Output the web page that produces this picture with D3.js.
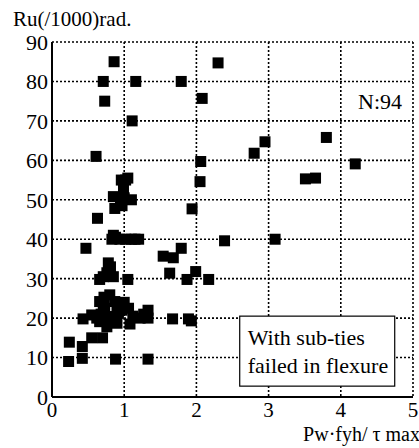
<!DOCTYPE html>
<html>
<head>
<meta charset="utf-8">
<script src="https://cdn.jsdelivr.net/npm/d3@7"></script>
<style>
  body { margin:0; background:#fff; }
  text { font-family: "Liberation Serif", "DejaVu Serif", serif; fill:#000; }
</style>
</head>
<body>
<div id="chart"></div>
<script>
// data: Pw*fyh/tau max (x) vs Ru (/1000 rad) (y)
var xVals = [0.86,0.71,1.16,1.79,0.73,2.08,1.11,2.30,2.95,2.80,3.80,4.20,3.51,3.65,3.09,
  0.61,2.06,2.05,1.94,0.63,0.47,0.96,1.02,0.99,0.85,0.95,1.10,1.00,0.87,0.97,
  0.85,0.83,0.94,1.02,1.10,1.20,2.39,1.54,1.68,1.79,1.63,1.87,1.99,2.17,1.33,
  1.67,1.89,1.93,0.81,0.71,0.85,1.05,0.72,0.80,0.24,0.23,0.42,0.42,0.55,0.70,
  0.88,1.33,0.43,0.55,0.66,0.71,0.80,0.76,0.90,0.92,1.06,1.08,1.22,1.33,0.97,
  0.78,0.66,0.87,0.66,0.76,1.15,1.00,0.72,0.68,0.90,1.27,0.62,1.12,0.88,0.73,
  0.95,1.05,0.78,1.28];
var yVals = [85,80,80,80,75,75.7,70,84.7,64.7,61.8,65.8,59.1,55.3,55.5,40,
  61,59.7,54.6,47.7,45.3,37.7,55,55,52.5,50.8,49.8,50,50.5,47.8,48.5,
  41,40,40,40,40,40,39.6,35.7,35.3,37.7,31.4,29.8,31.8,29.8,20,
  19.8,19.8,19.3,33,30.5,30.5,29.8,25.3,25.9,13.9,9,12.8,9.8,15,15,
  9.6,9.6,19.8,20.8,19.1,22,20.4,17.8,18.7,21.2,22.5,18.5,20,22,22,
  20,24.2,24.2,29.8,31.5,40,24,24,21,21.5,21,20,20.5,40.5,22.5,
  50.5,55.5,34,20.5];
var xTicks = [0,1,2,3,4,5];
var yTicks = [0,10,20,30,40,50,60,70,80,90];

var svgWidth = 419,
  svgHeight = 448;
var margin = {t:42, r:6, b:51, l:52};
var width = svgWidth - margin.l - margin.r,
  height = svgHeight - margin.t - margin.b;

var svg = d3.select('#chart')
  .append('svg')
  .attr('width', svgWidth)
  .attr('height', svgHeight);

var chartGroup = svg.append('g')
  .attr('transform', `translate(${margin.l},${margin.t})`);

var xScale = d3.scaleLinear().domain([0,5]).range([0,width]);
var yScale = d3.scaleLinear().domain([0,90]).range([height,0]);

// dotted grid (also makes the top and right frame)
chartGroup.append('g').selectAll('line')
  .data(yTicks.slice(1))
  .enter()
  .append('line')
  .attr('x1', 0).attr('x2', width)
  .attr('y1', d => yScale(d)).attr('y2', d => yScale(d))
  .attr('stroke', '#000')
  .attr('stroke-width', 1.6)
  .attr('stroke-dasharray', '2,2');

chartGroup.append('g').selectAll('line')
  .data(xTicks.slice(1))
  .enter()
  .append('line')
  .attr('x1', d => xScale(d)).attr('x2', d => xScale(d))
  .attr('y1', 0).attr('y2', height)
  .attr('stroke', '#000')
  .attr('stroke-width', 1.6)
  .attr('stroke-dasharray', '2,2');

// solid left and bottom axes
chartGroup.append('line')
  .attr('x1', 0).attr('x2', 0).attr('y1', 0).attr('y2', height)
  .attr('stroke', '#000').attr('stroke-width', 2);
chartGroup.append('line')
  .attr('x1', 0).attr('x2', width).attr('y1', height).attr('y2', height)
  .attr('stroke', '#000').attr('stroke-width', 2);

// tick labels
chartGroup.append('g').selectAll('text')
  .data(yTicks)
  .enter()
  .append('text')
  .attr('x', -4)
  .attr('y', d => yScale(d))
  .attr('dy', '0.36em')
  .attr('text-anchor', 'end')
  .style('font-size', '22px')
  .text(d => d);

chartGroup.append('g').selectAll('text')
  .data(xTicks)
  .enter()
  .append('text')
  .attr('x', d => xScale(d))
  .attr('y', height + 20)
  .attr('text-anchor', 'middle')
  .style('font-size', '21px')
  .text(d => d);

// legend box
var box = chartGroup.append('g')
  .attr('transform', `translate(${xScale(2.6)},${yScale(20.5)})`);
box.append('rect')
  .attr('width', 155).attr('height', 70)
  .attr('fill', '#fff')
  .attr('stroke', '#000')
  .attr('stroke-width', 1.2);
box.append('text').attr('x', 8).attr('y', 29).style('font-size', '22px').text('With sub-ties');
box.append('text').attr('x', 8).attr('y', 57).style('font-size', '22px').text('failed in flexure');

// points
var pts = xVals.map((x, i) => ({x: x, y: yVals[i]}));
chartGroup.append('g').selectAll('rect')
  .data(pts)
  .enter()
  .append('rect')
  .attr('x', d => xScale(d.x) - 5.5)
  .attr('y', d => yScale(d.y) - 5.5)
  .attr('width', 11)
  .attr('height', 11)
  .attr('fill', '#000');

// titles
svg.append('text')
  .attr('x', 13).attr('y', 26)
  .style('font-size', '21px')
  .text('Ru(/1000)rad.');

svg.append('text')
  .attr('x', 380).attr('y', 109)
  .attr('text-anchor', 'middle')
  .style('font-size', '22px')
  .text('N:94');

svg.append('text')
  .attr('x', 420).attr('y', 441)
  .attr('text-anchor', 'end')
  .style('font-size', '20px')
  .text('Pw\u00b7fyh/ \u03c4 max');
</script>
</body>
</html>
